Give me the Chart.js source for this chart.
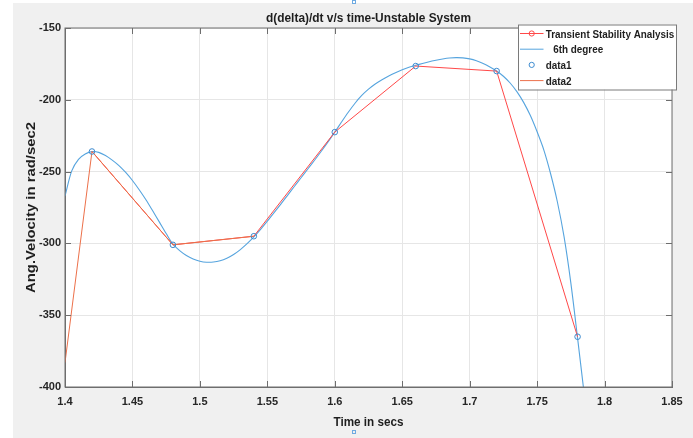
<!DOCTYPE html>
<html>
<head>
<meta charset="utf-8">
<script src="https://cdn.jsdelivr.net/npm/chart.js@4.4.1/dist/chart.umd.min.js"></script>
<style>
  html, body { margin: 0; padding: 0; background: #fff; }
  #wrap { width: 693px; height: 438px; }
</style>
</head>
<body>
<div id="wrap"><canvas id="velChart" width="693" height="438"></canvas></div>
<script>
// sampled simulation points (s, rad/sec2)
const timeSecs = [1.42, 1.48, 1.54, 1.60, 1.66, 1.72, 1.78];
const angVelocity = [-236, -301, -295, -222.5, -176.5, -180, -365];

// data2 segment
const data2Time = [1.40, 1.42, 1.48, 1.54];
const data2Vel = [-383, -236, -301, -295];

// 6th degree fit, every 0.005 s
const fitTime = [
    1.400, 1.405, 1.410, 1.415, 1.420, 1.425, 1.430, 1.435, 1.440, 1.445,
    1.450, 1.455, 1.460, 1.465, 1.470, 1.475, 1.480, 1.485, 1.490, 1.495,
    1.500, 1.505, 1.510, 1.515, 1.520, 1.525, 1.530, 1.535, 1.540, 1.545,
    1.550, 1.555, 1.560, 1.565, 1.570, 1.575, 1.580, 1.585, 1.590, 1.595,
    1.600, 1.605, 1.610, 1.615, 1.620, 1.625, 1.630, 1.635, 1.640, 1.645,
    1.650, 1.655, 1.660, 1.665, 1.670, 1.675, 1.680, 1.685, 1.690, 1.695,
    1.700, 1.705, 1.710, 1.715, 1.720, 1.725, 1.730, 1.735, 1.740, 1.745,
    1.750, 1.755, 1.760, 1.765, 1.770, 1.775, 1.780, 1.7843
];
const fitVel = [
    -267, -249.5, -241.5, -237.8, -236.1, -236.6, -238.8, -242, -245.8, -250.6,
    -256.2, -262.6, -269.6, -277.3, -285.2, -293.1, -300.5, -305, -308.4, -310.8,
    -312.4, -313.1, -313, -312.1, -310.3, -307.7, -304.3, -300.2, -295.5, -290.2,
    -284.5, -278.6, -272.6, -266.5, -260.4, -254.3, -248.2, -242.1, -235.8, -229.3,
    -222.5, -215.5, -208.7, -202.4, -197, -192.6, -189, -186, -183.4, -181.1,
    -179.1, -177.4, -176, -174.7, -173.5, -172.5, -171.6, -170.9, -170.6, -170.8,
    -171.5, -172.8, -174.7, -177.1, -179.9, -183.6, -188.3, -194.3, -201.8, -211,
    -222.3, -235, -251.5, -271, -295.5, -327.5, -366, -400
];

const xTicks = [1.4, 1.45, 1.5, 1.55, 1.6, 1.65, 1.7, 1.75, 1.8, 1.85];
const xTickLabels = ['1.4', '1.45', '1.5', '1.55', '1.6', '1.65', '1.7', '1.75', '1.8', '1.85'];
const yTicks = [-400, -350, -300, -250, -200, -150];
const yTickLabels = ['-400', '-350', '-300', '-250', '-200', '-150'];

const pts = (xs, ys) => xs.map((x, i) => ({ x: x, y: ys[i] }));

const BLUE = 'rgb(86,164,222)';
const RED = 'rgb(255,72,72)';
const ORANGE = 'rgb(236,112,74)';
const MARK = 'rgb(62,140,208)';
const AXIS = '#6e6e6e';
const FONT = '"Liberation Sans", Arial, sans-serif';

// draw text squeezed/stretched to a given width
function fitText(ctx, text, x, y, width, angle) {
    ctx.save();
    ctx.translate(x, y);
    ctx.rotate(angle || 0);
    const w = ctx.measureText(text).width;
    ctx.scale(width / w, 1);
    ctx.fillText(text, 0, 0);
    ctx.restore();
}

const figurePlugin = {
    id: 'figure',
    beforeDraw(chart) {
        const { ctx, chartArea: a } = chart;
        ctx.save();
        ctx.fillStyle = '#ffffff';
        ctx.fillRect(0, 0, chart.width, chart.height);
        ctx.fillStyle = '#f0f0f0';
        ctx.fillRect(13, 3, chart.width - 13, chart.height - 3);
        ctx.fillStyle = '#ffffff';
        ctx.fillRect(a.left, a.top, a.right - a.left, a.bottom - a.top);
        ctx.restore();
    },
    afterDraw(chart) {
        const { ctx, chartArea: a, scales } = chart;
        ctx.save();

        // box and inward ticks
        ctx.strokeStyle = AXIS;
        ctx.lineWidth = 1;
        ctx.strokeRect(a.left, a.top, a.right - a.left, a.bottom - a.top);
        ctx.beginPath();
        xTicks.forEach(v => {
            const px = Math.round(scales.x.getPixelForValue(v)) + 0.5;
            ctx.moveTo(px, a.bottom); ctx.lineTo(px, a.bottom - 6);
            ctx.moveTo(px, a.top); ctx.lineTo(px, a.top + 6);
        });
        yTicks.forEach(v => {
            const py = Math.round(scales.y.getPixelForValue(v)) + 0.5;
            ctx.moveTo(a.left, py); ctx.lineTo(a.left + 6, py);
            ctx.moveTo(a.right, py); ctx.lineTo(a.right - 6, py);
        });
        ctx.stroke();

        // titles
        const cx = (a.left + a.right) / 2;
        ctx.fillStyle = '#1e1e1e';
        ctx.textAlign = 'center';
        ctx.textBaseline = 'alphabetic';
        ctx.font = 'bold 12.5px ' + FONT;
        fitText(ctx, 'd(delta)/dt v/s time-Unstable System', cx, 21.5, 205);
        fitText(ctx, 'Time in secs', cx, 425.5, 70);
        ctx.font = 'bold 13px ' + FONT;
        fitText(ctx, 'Ang.Velocity in rad/sec2', 34.5, (a.top + a.bottom) / 2, 171, -Math.PI / 2);

        // small selection handles
        ctx.strokeStyle = 'rgb(110,170,225)';
        ctx.strokeRect(352.5, 0.5, 3, 3);
        ctx.strokeRect(352.5, 430.5, 3, 3);

        // legend
        const L = { x: 518, y: 24.5, w: 158, h: 65 };
        ctx.fillStyle = '#ffffff';
        ctx.fillRect(L.x, L.y, L.w, L.h);
        ctx.strokeStyle = '#7a7a7a';
        ctx.strokeRect(L.x + 0.5, L.y + 0.5, L.w, L.h);
        const rows = [
            { label: 'Transient Stability Analysis', line: RED, mark: RED, indent: 0 },
            { label: '6th degree', line: BLUE, mark: null, indent: 7.5 },
            { label: 'data1', line: null, mark: MARK, indent: 0 },
            { label: 'data2', line: ORANGE, mark: null, indent: 0 }
        ];
        ctx.font = 'bold 11.5px ' + FONT;
        ctx.textAlign = 'left';
        rows.forEach((r, i) => {
            const yc = 33.5 + i * 15.7;
            if (r.line) {
                ctx.strokeStyle = r.line;
                ctx.beginPath();
                ctx.moveTo(520, yc); ctx.lineTo(543.5, yc);
                ctx.stroke();
            }
            if (r.mark) {
                ctx.strokeStyle = r.mark;
                ctx.beginPath();
                ctx.arc(531.7, yc, 2.6, 0, Math.PI * 2);
                ctx.stroke();
            }
            ctx.fillStyle = '#1e1e1e';
            ctx.save();
            ctx.translate(545.7 + r.indent, yc + 4);
            ctx.scale(0.86, 1);
            ctx.fillText(r.label, 0, 0);
            ctx.restore();
        });
        ctx.restore();
    }
};

const ctx = document.getElementById('velChart').getContext('2d');

new Chart(ctx, {
    type: 'scatter',
    data: {
        datasets: [
            {
                label: 'data1',
                data: pts(timeSecs, angVelocity),
                showLine: false,
                pointRadius: 2.8,
                pointBorderWidth: 1,
                pointBorderColor: MARK,
                pointBackgroundColor: 'rgba(0,0,0,0)'
            },
            {
                label: 'data2',
                data: pts(data2Time, data2Vel),
                showLine: true,
                borderColor: ORANGE,
                borderWidth: 1,
                pointRadius: 0
            },
            {
                label: 'Transient Stability Analysis',
                data: pts(timeSecs, angVelocity),
                showLine: true,
                borderColor: RED,
                borderWidth: 1,
                pointRadius: 0
            },
            {
                label: '6th degree',
                data: pts(fitTime, fitVel),
                showLine: true,
                borderColor: BLUE,
                borderWidth: 1.1,
                pointRadius: 0,
                tension: 0.3
            }
        ]
    },
    options: {
        responsive: false,
        animation: false,
        events: [],
        layout: { padding: { left: 0, right: 21, top: 28, bottom: 0 } },
        plugins: {
            legend: { display: false },
            title: { display: false },
            tooltip: { enabled: false }
        },
        scales: {
            x: {
                type: 'linear',
                min: 1.4,
                max: 1.85,
                afterBuildTicks: s => { s.ticks = xTicks.map(v => ({ value: v })); },
                afterFit: s => { s.height = 51; },
                ticks: {
                    padding: 8,
                    color: '#262626',
                    font: { family: FONT, size: 11, weight: 'bold' },
                    callback: (v, i) => xTickLabels[i]
                },
                grid: { color: '#e6e6e6', drawTicks: false },
                border: { color: AXIS }
            },
            y: {
                type: 'linear',
                min: -400,
                max: -150,
                afterBuildTicks: s => { s.ticks = yTicks.map(v => ({ value: v })); },
                afterFit: s => { s.width = 65; },
                ticks: {
                    padding: 4,
                    color: '#262626',
                    font: { family: FONT, size: 11, weight: 'bold' },
                    callback: (v, i) => yTickLabels[i]
                },
                grid: { color: '#e6e6e6', drawTicks: false },
                border: { color: AXIS }
            }
        }
    },
    plugins: [figurePlugin]
});
</script>
</body>
</html>
